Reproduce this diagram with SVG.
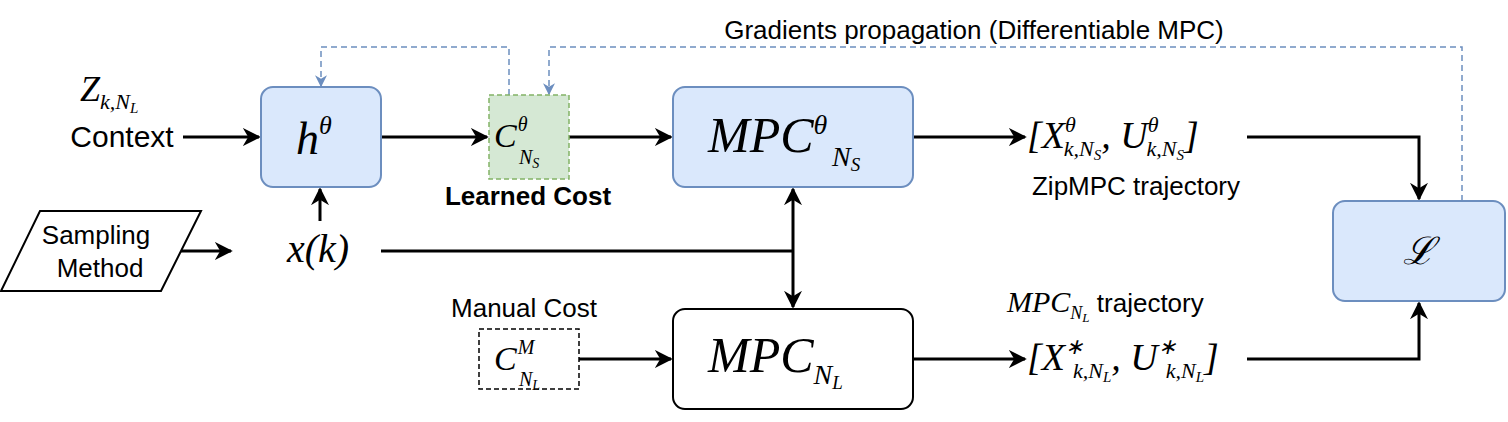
<svg xmlns="http://www.w3.org/2000/svg" width="1508" height="422" viewBox="0 0 1508 422">
<style>
.t{font-family:"Liberation Sans",Arial,sans-serif;font-size:26px;fill:#000}
.b{fill:#dae8fc;stroke:#6c8ebf;stroke-width:2}
.m{font-family:"Liberation Serif","Times New Roman",serif;font-style:italic;fill:#000}
.c{fill:none;stroke:#000;stroke-width:3}
.d{fill:none;stroke:#6c8ebf;stroke-width:1.5;stroke-dasharray:6 4}
</style>
<defs>
<marker id="ak" viewBox="0 0 10 10" refX="9" refY="5" markerWidth="6" markerHeight="6" orient="auto"><path d="M0,0L10,5L0,10L3,5z" fill="#000"/></marker>
<marker id="ab" viewBox="0 0 10 10" refX="9" refY="5" markerWidth="12" markerHeight="12" markerUnits="userSpaceOnUse" orient="auto"><path d="M0,0L10,5L0,10L3,5z" fill="#6c8ebf"/></marker>
</defs>
<g id="connectors">
<path class="c" d="M183,137H259" marker-end="url(#ak)"/>
<path class="c" d="M381,137H487" marker-end="url(#ak)"/>
<path class="c" d="M569,137H671" marker-end="url(#ak)"/>
<path class="c" d="M913,137H1025" marker-end="url(#ak)"/>
<path class="c" d="M1247,137H1419V199" marker-end="url(#ak)"/>
<path class="c" d="M181,251H231" marker-end="url(#ak)"/>
<path class="c" d="M320,221V189" marker-end="url(#ak)"/>
<path class="c" d="M381,251H793"/>
<path class="c" d="M793,251V189" marker-end="url(#ak)"/>
<path class="c" d="M793,251V307" marker-end="url(#ak)"/>
<path class="c" d="M579,359H671" marker-end="url(#ak)"/>
<path class="c" d="M913,359H1025" marker-end="url(#ak)"/>
<path class="c" d="M1247,359H1419V303" marker-end="url(#ak)"/>
<path class="d" d="M509,95V47H321V86" marker-end="url(#ab)"/>
<path class="d" d="M1462,201V47H549V94" marker-end="url(#ab)"/>
</g>
<text class="t" x="974" y="39" text-anchor="middle">Gradients propagation (Differentiable MPC)</text>
<g id="context">
<text class="m" x="80" y="101" font-size="36">Z<tspan font-size="22" dy="8">k,N</tspan><tspan font-size="15" dy="4">L</tspan></text>
<text class="t" x="122" y="147" text-anchor="middle" style="font-size:30px">Context</text>
</g>
<g id="h"><rect class="b" x="261" y="87" width="120" height="100" rx="12"/>
<text class="m" x="296" y="154" font-size="46">h<tspan font-size="26" dy="-20">θ</tspan></text></g>
<g id="C"><rect x="489" y="95" width="80" height="84" fill="#d5e8d4" stroke="#82b366" stroke-width="1.5" stroke-dasharray="5 3"/>
<text class="m" x="494" y="147" font-size="34">C<tspan font-size="20" dy="-16" dx="1">θ</tspan></text>
<text class="m" x="519" y="164" font-size="20">N<tspan font-size="14" dy="4">S</tspan></text>
<text class="t" x="528" y="205" text-anchor="middle" font-weight="bold">Learned Cost</text></g>
<g id="mpct"><rect class="b" x="673" y="87" width="240" height="100" rx="12"/>
<text class="m" x="708" y="152" font-size="50">MPC<tspan font-size="28" dy="-18">θ</tspan></text>
<text class="m" x="832" y="166" font-size="28">N<tspan font-size="19" dy="5">S</tspan></text></g>
<g id="traj1"><text class="m" x="1027" y="148" font-size="38">[X<tspan font-size="22" dy="-16">θ</tspan><tspan font-size="22" dy="24" dx="-12">k,N</tspan><tspan font-size="15" dy="4">S</tspan><tspan dy="-12">, U</tspan><tspan font-size="22" dy="-16">θ</tspan><tspan font-size="22" dy="24" dx="-12">k,N</tspan><tspan font-size="15" dy="4">S</tspan><tspan dy="-12">]</tspan></text>
<text class="t" x="1136" y="195" text-anchor="middle">ZipMPC trajectory</text></g>
<g id="sampling"><polygon points="40,211 201,211 161,291 1,291" fill="#fff" stroke="#000" stroke-width="2"/>
<text class="t" x="96" y="244" text-anchor="middle">Sampling</text><text class="t" x="100" y="277" text-anchor="middle">Method</text></g>
<g id="x"><text class="m" x="318" y="262" font-size="40" text-anchor="middle">x(k)</text></g>
<g id="manual"><text class="t" x="524" y="317" text-anchor="middle">Manual Cost</text>
<rect x="479" y="329" width="100" height="60" fill="#fff" stroke="#000" stroke-width="1.5" stroke-dasharray="5 3"/>
<text class="m" x="494" y="370" font-size="34">C<tspan font-size="20" dy="-16" dx="1">M</tspan></text>
<text class="m" x="519" y="386" font-size="20">N<tspan font-size="14" dy="4">L</tspan></text></g>
<g id="mpcl"><rect x="673" y="309" width="240" height="100" rx="12" fill="#fff" stroke="#000" stroke-width="2"/>
<text class="m" x="708" y="372" font-size="50">MPC<tspan font-size="28" dy="12">N</tspan><tspan font-size="19" dy="5">L</tspan></text></g>
<g id="traj2"><text class="m" x="1007" y="312" font-size="30">MPC<tspan font-size="18" dy="7">N</tspan><tspan font-size="13" dy="3">L</tspan><tspan class="t" style="font-style:normal" dy="-10"> trajectory</tspan></text>
<text class="m" x="1027" y="370" font-size="38">[X<tspan font-size="22" dy="-16">∗</tspan><tspan font-size="22" dy="24" dx="-10">k,N</tspan><tspan font-size="15" dy="4">L</tspan><tspan dy="-12">, U</tspan><tspan font-size="22" dy="-16">∗</tspan><tspan font-size="22" dy="24" dx="-10">k,N</tspan><tspan font-size="15" dy="4">L</tspan><tspan dy="-12">]</tspan></text></g>
<g id="L"><rect class="b" x="1333" y="201" width="172" height="100" rx="12"/>
<text x="1419" y="264" font-size="38" text-anchor="middle" font-family="DejaVu Serif,serif" font-style="italic">ℒ</text></g>
</svg>
